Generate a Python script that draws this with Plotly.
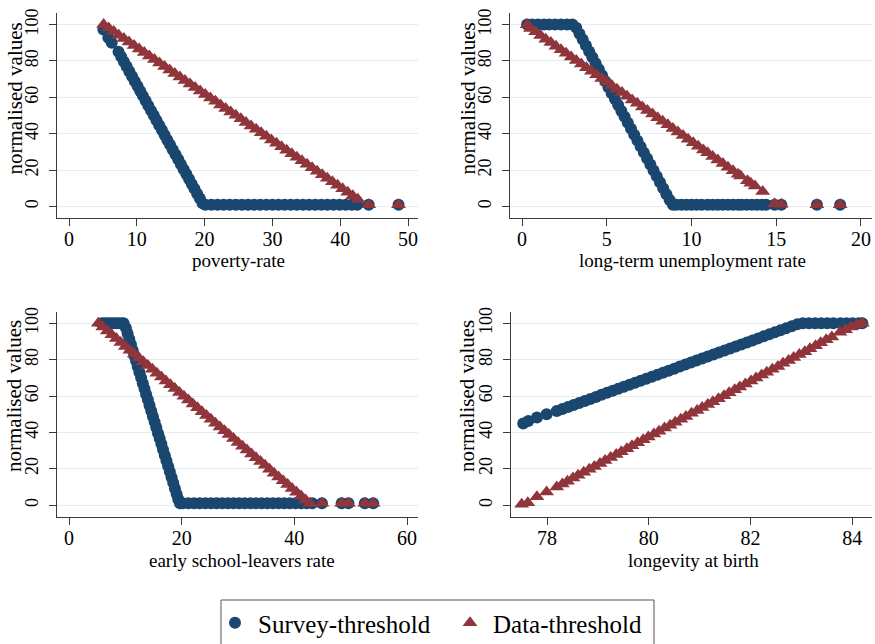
import plotly.graph_objects as go

# ---------------- data ----------------
y_ticks = [0, 20, 40, 60, 80, 100]
pov_ticks = [0, 10, 20, 30, 40, 50]
ltu_ticks = [0, 5, 10, 15, 20]
esl_ticks = [0, 20, 40, 60]
lon_ticks = [78, 80, 82, 84]

series_names = ["Survey-threshold", "Data-threshold"]
axis_titles = ["poverty-rate", "long-term unemployment rate",
               "early school-leavers rate", "longevity at birth"]
y_title = "normalised values"

# poverty-rate
pov_survey_x = [5.07, 5.8, 6.3, 7.3, 7.7, 8.1, 8.5, 8.9, 9.3, 9.7, 10.1, 10.5, 10.9, 11.3, 11.7,
                12.1, 12.5, 12.9, 13.3, 13.7, 14.1, 14.5, 14.9, 15.3, 15.7, 16.1, 16.5, 16.9,
                17.3, 17.7, 18.1, 18.5, 18.9, 19.3, 19.7,
                20.1, 21.0, 21.9, 22.8, 23.7, 24.6, 25.5, 26.4, 27.3, 28.2, 29.1, 30.0, 30.9,
                31.8, 32.7, 33.6, 34.5, 35.4, 36.3, 37.2, 38.1, 39.0, 39.9, 40.8, 41.7, 42.5,
                44.2, 48.6]
pov_survey_y = [97.3, 92.7, 90.0, 85.0, 82.3, 79.6, 76.9, 74.2, 71.6, 68.9, 66.2, 63.5, 60.8, 58.1,
                55.4, 52.7, 50.1, 47.4, 44.7, 42.0, 39.3, 36.6, 33.9, 31.2, 28.6, 25.9, 23.2, 20.5,
                17.8, 15.1, 12.4, 9.7, 7.0, 4.4, 1.7,
                1, 1, 1, 1, 1, 1, 1, 1, 1, 1, 1, 1, 1, 1, 1, 1, 1, 1, 1, 1, 1, 1, 1, 1, 1, 1,
                1, 1]
pov_data_x = [5.1, 5.85, 6.6, 7.35, 8.1, 8.85, 9.6, 10.35, 11.1, 11.85, 12.6, 13.35, 14.1, 14.85,
              15.6, 16.35, 17.1, 17.85, 18.6, 19.35, 20.1, 20.85, 21.6, 22.35, 23.1, 23.85, 24.6,
              25.35, 26.1, 26.85, 27.6, 28.35, 29.1, 29.85, 30.6, 31.35, 32.1, 32.85, 33.6, 34.35,
              35.1, 35.85, 36.6, 37.35, 38.1, 38.85, 39.6, 40.35, 41.1, 41.85, 42.6,
              44.2, 48.6]
pov_data_y = [100.0, 98.1, 96.2, 94.2, 92.3, 90.4, 88.5, 86.6, 84.6, 82.7, 80.8, 78.9, 77.0, 75.0,
              73.1, 71.2, 69.3, 67.4, 65.4, 63.5, 61.6, 59.7, 57.8, 55.8, 53.9, 52.0, 50.1, 48.2,
              46.2, 44.3, 42.4, 40.5, 38.6, 36.6, 34.7, 32.8, 30.9, 29.0, 27.0, 25.1, 23.2, 21.3,
              19.4, 17.4, 15.5, 13.6, 11.7, 9.8, 7.8, 5.9, 4.0,
              1, 1]

# long-term unemployment rate
ltu_survey_x = [0.3, 0.6, 0.95, 1.3, 1.6, 1.95, 2.3, 2.65, 2.97,
                3.2, 3.39, 3.58, 3.77, 3.96, 4.15, 4.34, 4.53, 4.72, 4.91, 5.1, 5.29, 5.48, 5.67,
                5.86, 6.05, 6.24, 6.43, 6.62, 6.81, 7.0, 7.19, 7.38, 7.57, 7.76, 7.95, 8.14, 8.33,
                8.52, 8.71, 8.9,
                9.1, 9.4, 9.7, 10.0, 10.3, 10.6, 10.95, 11.25, 11.55, 11.85, 12.15, 12.45, 12.75,
                12.95, 13.25, 13.55, 13.85, 14.15, 14.4, 14.9, 15.3, 17.4, 18.77]
ltu_survey_y = [100, 100, 100, 100, 100, 100, 100, 100, 100,
                98.3, 95.0, 91.8, 88.5, 85.2, 82.0, 78.7, 75.4, 72.1, 68.9, 65.6, 62.3, 59.1, 55.8,
                52.5, 49.3, 46.0, 42.7, 39.4, 36.2, 32.9, 29.6, 26.4, 23.1, 19.8, 16.6, 13.3, 10.0,
                6.7, 3.5, 1,
                1, 1, 1, 1, 1, 1, 1, 1, 1, 1, 1, 1, 1, 1, 1, 1, 1, 1, 1, 1, 1, 1, 1]
ltu_data_x = [0.3, 0.5, 0.8, 1.1, 1.4, 1.7, 2.0, 2.3, 2.6, 2.9, 3.2, 3.5, 3.8, 4.1, 4.4, 4.7, 5.0,
              5.3, 5.6, 5.9, 6.2, 6.5, 6.8, 7.1, 7.4, 7.7, 8.0, 8.3, 8.6, 8.9, 9.2, 9.5, 9.8, 10.1,
              10.4, 10.7,
              10.95, 11.25, 11.55, 11.85, 12.15, 12.45, 12.75, 12.9,
              13.3, 13.5, 13.75, 14.2, 14.9, 15.3, 17.4, 18.77]
ltu_data_y = [99.9, 97.9, 96.0, 94.0, 92.0, 90.1, 88.1, 86.1, 84.2, 82.2, 80.3, 78.3, 76.3, 74.4,
              72.4, 70.4, 68.5, 66.5, 64.5, 62.6, 60.6, 58.6, 56.7, 54.7, 52.7, 50.8, 48.8, 46.8,
              44.9, 42.9, 40.9, 39.0, 37.0, 35.0, 33.1, 31.1,
              29.5, 27.5, 25.5, 23.6, 21.6, 19.6, 17.7, 16.7,
              14.1, 12.8, 11.2, 8.2, 1.5, 1.2, 1, 1]

# early school-leavers rate
esl_survey_x = [5.8, 6.3, 6.8, 7.3, 7.8, 8.3, 8.8, 9.3, 9.7,
                10.1, 10.4, 10.7, 11.0, 11.3, 11.6, 11.9, 12.2, 12.5, 12.8, 13.1, 13.4, 13.7,
                14.0, 14.3, 14.6, 14.9, 15.2, 15.5, 15.8, 16.1, 16.4, 16.7, 17.0, 17.3, 17.6,
                17.9, 18.2, 18.5, 18.8, 19.1, 19.4, 19.7,
                20.2, 21.2, 22.2, 23.2, 24.2, 25.2, 26.2, 27.2, 28.2, 29.2, 30.2, 31.2, 32.2,
                33.2, 34.2, 35.2, 36.2, 37.2, 38.2, 39.2, 40.2, 41.2, 42.2, 43.2,
                44.9, 48.4, 49.6, 52.5, 54.0]
esl_survey_y = [100, 100, 100, 100, 100, 100, 100, 100, 100,
                97.4, 94.4, 91.3, 88.3, 85.2, 82.2, 79.2, 76.1, 73.1, 70.0, 67.0, 64.0, 60.9,
                57.9, 54.8, 51.8, 48.8, 45.7, 42.7, 39.6, 36.6, 33.6, 30.5, 27.5, 24.4, 21.4,
                18.4, 15.3, 12.3, 9.2, 6.2, 3.2, 1,
                1, 1, 1, 1, 1, 1, 1, 1, 1, 1, 1, 1, 1, 1, 1, 1, 1, 1, 1, 1, 1, 1, 1, 1,
                1, 1, 1, 1, 1]
esl_data_x = [5.2, 6.0, 6.8, 7.6, 8.4, 9.2, 10.0, 10.8, 11.6, 12.4, 13.2, 14.0, 14.8, 15.6, 16.4,
              17.2, 18.0, 18.8, 19.6, 20.4, 21.2, 22.0, 22.8, 23.6, 24.4, 25.2, 26.0, 26.8, 27.6,
              28.4, 29.2, 30.0, 30.8, 31.6, 32.4, 33.2, 34.0, 34.8, 35.6, 36.4, 37.2, 38.0, 38.8,
              39.6, 40.4, 41.2, 42.0, 42.8,
              44.9, 48.4, 49.6, 52.5, 54.0]
esl_data_y = [100.0, 97.9, 95.8, 93.7, 91.6, 89.4, 87.3, 85.2, 83.1, 81.0, 78.9, 76.8, 74.7, 72.5,
              70.4, 68.3, 66.2, 64.1, 62.0, 59.9, 57.8, 55.6, 53.5, 51.4, 49.3, 47.2, 45.1, 43.0,
              40.9, 38.8, 36.6, 34.5, 32.4, 30.3, 28.2, 26.1, 24.0, 21.9, 19.7, 17.6, 15.5, 13.4,
              11.3, 9.2, 7.1, 5.0, 2.8, 1,
              1, 1, 1, 1, 1]

# longevity at birth
lon_survey_x = [77.53, 77.63, 77.8, 77.99,
                78.19, 78.30, 78.41, 78.52, 78.63, 78.74, 78.85, 78.96, 79.07, 79.18, 79.29,
                79.40, 79.51, 79.62, 79.73, 79.84, 79.95, 80.06, 80.17, 80.28, 80.39, 80.50,
                80.61, 80.72, 80.83, 80.94, 81.05, 81.16, 81.27, 81.38, 81.49, 81.60, 81.71,
                81.82, 81.93, 82.04, 82.15, 82.26, 82.37, 82.48, 82.59, 82.70, 82.81, 82.92,
                83.03, 83.15, 83.27, 83.39, 83.51, 83.63, 83.77, 83.89, 84.01, 84.13, 84.2]
lon_survey_y = [44.9, 46.3, 48.2, 50.0,
                51.8, 52.9, 54.0, 55.1, 56.2, 57.3, 58.4, 59.5, 60.7, 61.8, 62.9, 64.0, 65.1,
                66.2, 67.3, 68.4, 69.5, 70.6, 71.7, 72.8, 73.9, 75.0, 76.2, 77.3, 78.4, 79.5,
                80.6, 81.7, 82.8, 83.9, 85.0, 86.1, 87.2, 88.3, 89.4, 90.5, 91.7, 92.8, 93.9,
                95.0, 96.1, 97.2, 98.3, 99.4,
                100, 100, 100, 100, 100, 100, 100, 100, 100, 100, 100]
lon_data_x = [77.5, 77.62, 77.8, 77.99,
              78.19, 78.30, 78.40, 78.51, 78.61, 78.72, 78.83, 78.93, 79.04, 79.14, 79.25, 79.36,
              79.46, 79.57, 79.67, 79.78, 79.89, 79.99, 80.10, 80.20, 80.31, 80.42, 80.52, 80.63,
              80.73, 80.84, 80.95, 81.05, 81.16, 81.26, 81.37, 81.48, 81.58, 81.69, 81.79, 81.90,
              82.01, 82.11, 82.22, 82.32, 82.43, 82.54, 82.64, 82.75, 82.85, 82.96, 83.07, 83.17,
              83.28, 83.38, 83.49, 83.60,
              83.76, 83.87, 83.98, 84.09, 84.2]
lon_data_y = [0.5, 1.3, 4.6, 7.3,
              10.0, 11.6, 13.2, 14.9, 16.5, 18.1, 19.7, 21.3, 22.9, 24.6, 26.2, 27.8, 29.4, 31.0,
              32.7, 34.3, 35.9, 37.5, 39.1, 40.7, 42.4, 44.0, 45.6, 47.2, 48.8, 50.5, 52.1, 53.7,
              55.3, 56.9, 58.5, 60.2, 61.8, 63.4, 65.0, 66.6, 68.3, 69.9, 71.5, 73.1, 74.7, 76.3,
              78.0, 79.6, 81.2, 82.8, 84.4, 86.0, 87.7, 89.3, 90.9, 92.5,
              95.0, 96.5, 98.0, 99.2, 100]

for a, b in [(pov_survey_x, pov_survey_y), (pov_data_x, pov_data_y),
             (ltu_survey_x, ltu_survey_y), (ltu_data_x, ltu_data_y),
             (esl_survey_x, esl_survey_y), (esl_data_x, esl_data_y),
             (lon_survey_x, lon_survey_y), (lon_data_x, lon_data_y)]:
    assert len(a) == len(b), (len(a), len(b))

# ---------------- styling / layout ----------------
W, H = 875, 644
NAVY = "#1a476f"
MAROON = "#90353b"
GRID = "#e4eef0"
AXIS = "#3a3a3a"
FONT = "Liberation Serif"


def fx(p):
    return p / W


def fy(p):
    return 1 - p / H


panels = [
    dict(sx=pov_survey_x, sy=pov_survey_y, dx=pov_data_x, dy=pov_data_y,
         xdom=(57, 418), ydom=(218.3, 13.3), xr=(-1.77, 51.47), ticks=pov_ticks,
         xt=(238, 260), yt=(14, 98.5)),
    dict(sx=ltu_survey_x, sy=ltu_survey_y, dx=ltu_data_x, dy=ltu_data_y,
         xdom=(510, 872), ydom=(218.3, 13.3), xr=(-0.71, 20.65), ticks=ltu_ticks,
         xt=(692, 260), yt=(467, 98.5)),
    dict(sx=esl_survey_x, sy=esl_survey_y, dx=esl_data_x, dy=esl_data_y,
         xdom=(57, 418), ydom=(517, 312), xr=(-2.13, 61.95), ticks=esl_ticks,
         xt=(242, 560), yt=(14, 396)),
    dict(sx=lon_survey_x, sy=lon_survey_y, dx=lon_data_x, dy=lon_data_y,
         xdom=(511, 872), ydom=(517, 312), xr=(77.29, 84.39), ticks=lon_ticks,
         xt=(693, 560), yt=(467, 396)),
]

fig = go.Figure()
layout = {}
annotations = []
for i, p in enumerate(panels):
    k = "" if i == 0 else str(i + 1)
    xa, ya = "x" + k, "y" + k
    fig.add_trace(go.Scatter(
        x=p["sx"], y=p["sy"], mode="markers", xaxis=xa, yaxis=ya,
        name=series_names[0], showlegend=(i == 0), legendrank=1,
        marker=dict(symbol="circle", size=12, color=NAVY, line=dict(width=0))))
    fig.add_trace(go.Scatter(
        x=p["dx"], y=p["dy"], mode="markers", xaxis=xa, yaxis=ya,
        name=series_names[1], showlegend=(i == 0), legendrank=2,
        marker=dict(symbol="triangle-up", size=13, color=MAROON, line=dict(width=0))))
    layout["xaxis" + k] = dict(
        domain=[fx(p["xdom"][0]), fx(p["xdom"][1])], range=list(p["xr"]), anchor=ya,
        tickmode="array", tickvals=p["ticks"], ticktext=[str(t) for t in p["ticks"]],
        ticks="outside", ticklen=7, tickwidth=1, tickcolor=AXIS, ticklabelstandoff=-4,
        showline=True, linecolor=AXIS, linewidth=1, showgrid=False, zeroline=False,
        tickfont=dict(family=FONT, size=20, color="black"), automargin=False)
    layout["yaxis" + k] = dict(
        domain=[fy(p["ydom"][0]), fy(p["ydom"][1])], range=[-6.5, 106.2], anchor=xa,
        tickmode="array", tickvals=y_ticks, ticktext=[str(t) for t in y_ticks],
        ticks="outside", ticklen=7, tickwidth=1, tickcolor=AXIS, tickangle=-90,
        ticklabelstandoff=4,
        showline=True, linecolor=AXIS, linewidth=1, showgrid=True, gridcolor=GRID,
        gridwidth=1.2, zeroline=False,
        tickfont=dict(family=FONT, size=18, color="black"), automargin=False)
    annotations.append(dict(
        text=axis_titles[i], xref="paper", yref="paper", x=fx(p["xt"][0]), y=fy(p["xt"][1]),
        xanchor="center", yanchor="middle", showarrow=False,
        font=dict(family=FONT, size=19, color="black")))
    annotations.append(dict(
        text=y_title, xref="paper", yref="paper", x=fx(p["yt"][0]), y=fy(p["yt"][1]),
        xanchor="center", yanchor="middle", showarrow=False, textangle=-90,
        font=dict(family=FONT, size=21, color="black")))

fig.update_layout(
    width=W, height=H, margin=dict(l=0, r=0, t=0, b=0, autoexpand=False),
    paper_bgcolor="white", plot_bgcolor="white",
    font=dict(family=FONT, color="black"),
    showlegend=True,
    legend=dict(orientation="h", x=fx(212), xanchor="left", y=fy(623), yanchor="middle",
                font=dict(family=FONT, size=25, color="black"),
                bgcolor="rgba(0,0,0,0)", borderwidth=0, itemwidth=36,
                entrywidth=184, entrywidthmode="pixels"),
    shapes=[dict(type="rect", xref="paper", yref="paper",
                 x0=fx(221), x1=fx(654), y0=fy(660), y1=fy(600),
                 line=dict(color="#555555", width=1), fillcolor="rgba(0,0,0,0)")],
    annotations=annotations,
    **layout)

fig.write_html("out.html", config={"displayModeBar": False},
               post_script="document.body.style.margin='0px';")
